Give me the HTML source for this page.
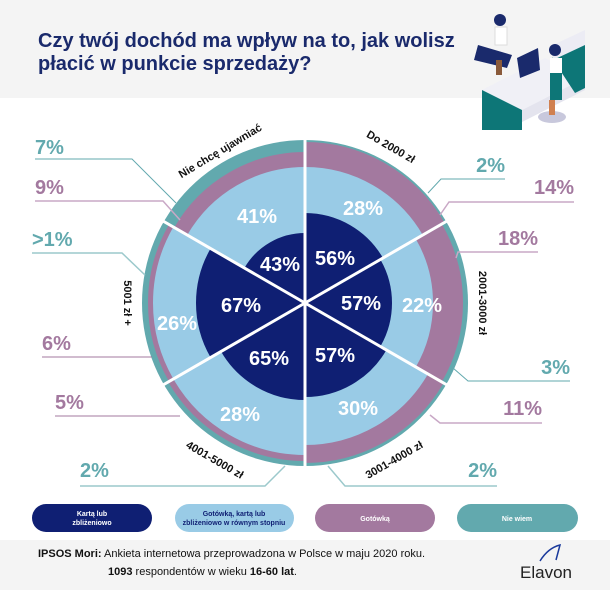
<!DOCTYPE html>
<html><head><meta charset="utf-8"><style>
html,body{margin:0;padding:0;background:#fff}
svg{display:block}
text{font-family:"Liberation Sans",sans-serif}
</style></head><body>
<svg width="610" height="590" viewBox="0 0 610 590" xmlns="http://www.w3.org/2000/svg">
<rect x="0" y="0" width="610" height="98" fill="#f4f4f4"/>
<text x="38" y="47" font-size="20" font-weight="bold" fill="#1a2a6c">Czy twój dochód ma wpływ na to, jak wolisz</text>
<text x="38" y="70" font-size="20" font-weight="bold" fill="#1a2a6c">płacić w punkcie sprzedaży?</text>
<!-- illustration -->
<polygon points="482,90 545,58 585,78 522,110" fill="#f0f0f6"/>
<polygon points="482,90 522,110 522,130 482,130" fill="#0d7677"/>
<polygon points="522,110 585,78 585,90 522,122" fill="#e4e4ee"/>
<polygon points="552,58 585,42 585,88 575,93" fill="#0d7677"/>
<polygon points="553,45 585,30 585,45 553,60" fill="#ececf4"/>
<polygon points="478,45 512,55 507,68 474,60" fill="#1a2a6c"/>
<circle cx="500" cy="20" r="6" fill="#1a2a6c"/>
<rect x="495" y="27" width="12" height="18" fill="#fff" stroke="#ddd"/>
<rect x="496" y="60" width="6" height="15" fill="#8a5a3a"/>
<polygon points="517,58 538,48 540,70 520,78" fill="#1a2a6c"/>
<circle cx="555" cy="50" r="6" fill="#1a2a6c"/>
<rect x="550" y="58" width="12" height="15" fill="#fff"/>
<rect x="550" y="73" width="12" height="27" fill="#0d7677"/>
<ellipse cx="552" cy="117" rx="14" ry="6" fill="#c8c8dc"/>
<rect x="549" y="100" width="6" height="15" fill="#d08050"/>
<!-- chart -->
<circle cx="305" cy="303" r="163" fill="#62a9ae"/>
<g fill="none">
<g stroke="#a3799f">
<circle cx="305" cy="303" r="80.5" stroke-width="161" stroke-dasharray="84.3 600" transform="rotate(-90 305 303)"/>
<circle cx="305" cy="303" r="79" stroke-width="158" stroke-dasharray="82.73 600" transform="rotate(-30 305 303)"/>
<circle cx="305" cy="303" r="80" stroke-width="160" stroke-dasharray="83.78 600" transform="rotate(30 305 303)"/>
<circle cx="305" cy="303" r="79" stroke-width="158" stroke-dasharray="82.73 600" transform="rotate(90 305 303)"/>
<circle cx="305" cy="303" r="78.5" stroke-width="157" stroke-dasharray="82.2 600" transform="rotate(150 305 303)"/>
<circle cx="305" cy="303" r="75.5" stroke-width="151" stroke-dasharray="79.06 600" transform="rotate(210 305 303)"/>
</g>
<g stroke="#99cbe6">
<circle cx="305" cy="303" r="68" stroke-width="136" stroke-dasharray="71.21 600" transform="rotate(-90 305 303)"/>
<circle cx="305" cy="303" r="64" stroke-width="128" stroke-dasharray="67.02 600" transform="rotate(-30 305 303)"/>
<circle cx="305" cy="303" r="71" stroke-width="142" stroke-dasharray="74.35 600" transform="rotate(30 305 303)"/>
<circle cx="305" cy="303" r="76" stroke-width="152" stroke-dasharray="79.59 600" transform="rotate(90 305 303)"/>
<circle cx="305" cy="303" r="76" stroke-width="152" stroke-dasharray="79.59 600" transform="rotate(150 305 303)"/>
<circle cx="305" cy="303" r="68" stroke-width="136" stroke-dasharray="71.21 600" transform="rotate(210 305 303)"/>
</g>
<g stroke="#0f1f73">
<circle cx="305" cy="303" r="45" stroke-width="90" stroke-dasharray="47.12 600" transform="rotate(-90 305 303)"/>
<circle cx="305" cy="303" r="43.5" stroke-width="87" stroke-dasharray="45.55 600" transform="rotate(-30 305 303)"/>
<circle cx="305" cy="303" r="47" stroke-width="94" stroke-dasharray="49.22 600" transform="rotate(30 305 303)"/>
<circle cx="305" cy="303" r="48.5" stroke-width="97" stroke-dasharray="50.79 600" transform="rotate(90 305 303)"/>
<circle cx="305" cy="303" r="54.5" stroke-width="109" stroke-dasharray="57.07 600" transform="rotate(150 305 303)"/>
<circle cx="305" cy="303" r="35" stroke-width="70" stroke-dasharray="36.65 600" transform="rotate(210 305 303)"/>
</g>
</g>
<g stroke="#fff" stroke-width="3">
<line x1="305" y1="138" x2="305" y2="468"/>
<line x1="447.9" y1="220.5" x2="162.1" y2="385.5"/>
<line x1="447.9" y1="385.5" x2="162.1" y2="220.5"/>
</g>
<g fill="#fff" font-size="20" font-weight="bold" text-anchor="middle">
<text x="335" y="265">56%</text>
<text x="361" y="310">57%</text>
<text x="335" y="362">57%</text>
<text x="269" y="365">65%</text>
<text x="241" y="312">67%</text>
<text x="280" y="271">43%</text>
<text x="363" y="215">28%</text>
<text x="422" y="312">22%</text>
<text x="358" y="415">30%</text>
<text x="240" y="421">28%</text>
<text x="177" y="330">26%</text>
<text x="257" y="223">41%</text>
</g>
<g font-size="11" font-weight="bold" fill="#111" text-anchor="middle">
<text transform="translate(222,154) rotate(-31)">Nie chcę ujawniać</text>
<text transform="translate(389,150) rotate(30)">Do 2000 zł</text>
<text transform="translate(479,303) rotate(90)">2001-3000 zł</text>
<text transform="translate(396,463) rotate(-30)">3001-4000 zł</text>
<text transform="translate(213,463) rotate(30)">4001-5000 zł</text>
<text transform="translate(124,303) rotate(90)">5001 zł +</text>
</g>
<!-- leader lines -->
<g fill="none" stroke-width="1">
<polyline points="35,159 132,159 176,203" stroke="#62a9ae"/>
<polyline points="35,201 163,201 180,220" stroke="#c9a8c6" stroke-width="1.5"/>
<polyline points="32,253 122,253 145,275" stroke="#9cc9cc" stroke-width="1.5"/>
<polyline points="42,357 152,357" stroke="#a3799f"/>
<polyline points="55,416 180,416" stroke="#a3799f"/>
<polyline points="80,486 265,486 285,466" stroke="#9cc9cc" stroke-width="1.5"/>
<polyline points="505,179 441,179 428,193" stroke="#62a9ae"/>
<polyline points="574,202 449,202 440,215" stroke="#c9a8c6" stroke-width="1.5"/>
<polyline points="538,252 458,252 456,258" stroke="#c9a8c6" stroke-width="1.5"/>
<polyline points="570,381 468,381 453,368" stroke="#62a9ae"/>
<polyline points="542,423 440,423 430,415" stroke="#c9a8c6" stroke-width="1.5"/>
<polyline points="497,486 345,486 328,466" stroke="#9cc9cc" stroke-width="1.5"/>
</g>
<g font-size="20" font-weight="bold">
<text x="35" y="154" fill="#62a9ae">7%</text>
<text x="35" y="194" fill="#a3799f">9%</text>
<text x="32" y="246" fill="#62a9ae">&gt;1%</text>
<text x="42" y="350" fill="#a3799f">6%</text>
<text x="55" y="409" fill="#a3799f">5%</text>
<text x="80" y="477" fill="#62a9ae">2%</text>
<text x="505" y="172" text-anchor="end" fill="#62a9ae">2%</text>
<text x="574" y="194" text-anchor="end" fill="#a3799f">14%</text>
<text x="538" y="245" text-anchor="end" fill="#a3799f">18%</text>
<text x="570" y="374" text-anchor="end" fill="#62a9ae">3%</text>
<text x="542" y="415" text-anchor="end" fill="#a3799f">11%</text>
<text x="497" y="477" text-anchor="end" fill="#62a9ae">2%</text>
</g>
<!-- legend -->
<rect x="32" y="504" width="120" height="28" rx="14" fill="#0f1f73"/>
<rect x="175" y="504" width="119" height="28" rx="14" fill="#99cbe6"/>
<rect x="315" y="504" width="120" height="28" rx="14" fill="#a3799f"/>
<rect x="457" y="504" width="121" height="28" rx="14" fill="#62a9ae"/>
<g font-size="7" font-weight="bold" text-anchor="middle">
<text x="92" y="516" fill="#fff">Kartą lub</text>
<text x="92" y="525" fill="#fff">zbliżeniowo</text>
<text x="234" y="516" fill="#0f1f73">Gotówką, kartą lub</text>
<text x="234" y="525" fill="#0f1f73">zbliżeniowo w równym stopniu</text>
<text x="375" y="521" fill="#fff">Gotówką</text>
<text x="517" y="521" fill="#fff">Nie wiem</text>
</g>
<rect x="0" y="540" width="610" height="50" fill="#f4f4f4"/>
<text x="38" y="557" font-size="11" fill="#111"><tspan font-weight="bold">IPSOS Mori:</tspan> Ankieta internetowa przeprowadzona w Polsce w maju 2020 roku.</text>
<text x="108" y="575" font-size="11" fill="#111"><tspan font-weight="bold">1093</tspan> respondentów w wieku <tspan font-weight="bold">16-60 lat</tspan>.</text>
<text x="520" y="578" font-size="17" fill="#222">Elavon</text>
<path d="M540,561 Q548,548 560,545 L556,560" fill="none" stroke="#1a3a9c" stroke-width="1.5"/>
</svg>
</body></html>
